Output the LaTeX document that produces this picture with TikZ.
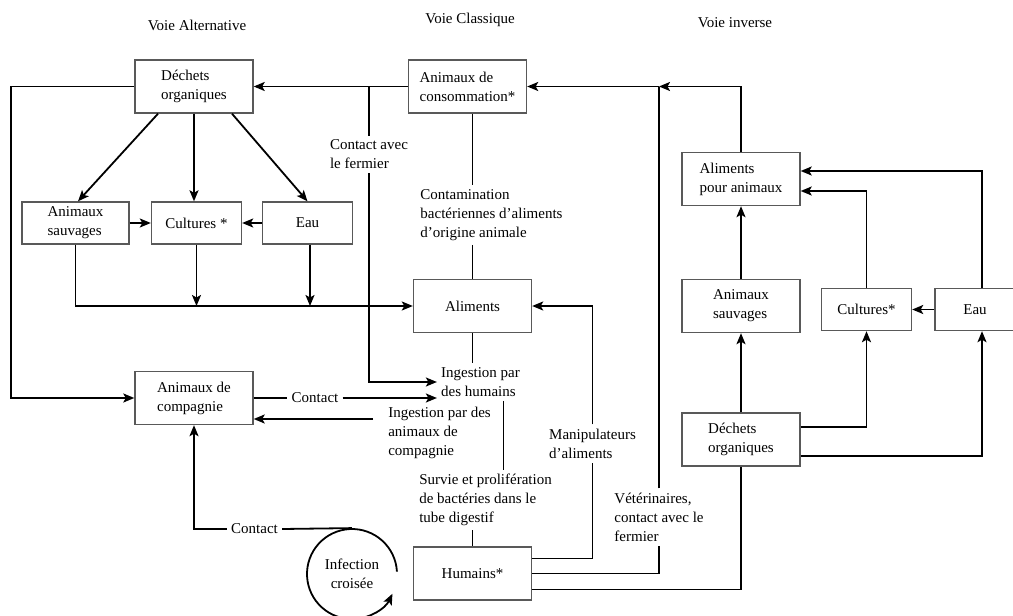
\documentclass[tikz,border=0pt]{standalone}
\usepackage{fontspec}
\setmainfont{Liberation Serif}
\usetikzlibrary{arrows.meta,positioning}

\begin{document}
\begin{tikzpicture}[x=1pt,y=-1pt,>={Stealth[length=11pt,width=9pt,inset=2.5pt]},
line width=1.8pt,font=\fontsize{15}{19}\selectfont]
\tikzstyle{box}=[draw=black!65,line width=1.4pt,align=left,minimum width=118pt,minimum height=53pt]
\tikzstyle{sbox}=[box,minimum width=90pt,minimum height=42pt]
\tikzstyle{lbl}=[align=left]

\useasboundingbox (0,0) rectangle (1013,616);

\node[lbl] (tAlt) at (197,25) {Voie Alternative};
\node[lbl] (tCla) at (470,20) {Voie Classique};
\node[lbl] (tInv) at (735,23) {Voie inverse};

\node[box]  (dechL)  at (194,86.5)   {Déchets\\organiques};
\node[sbox,minimum width=107pt] (sauvL) at (75.5,223) {Animaux\\sauvages};
\node[sbox] (cultL)  at (196.5,223)  {Cultures *};
\node[sbox] (eauL)   at (307.5,223)  {Eau};
\node[box]  (conso)  at (467.5,86.5) {Animaux de\\consommation*};
\node[box]  (alim)   at (472.5,306)  {Aliments};
\node[box]  (alimAn) at (741,179)    {Aliments\\pour animaux};
\node[box]  (sauvR)  at (741,306)    {Animaux\\sauvages};
\node[sbox] (cultR)  at (866.5,309.5) {Cultures*};
\node[sbox,minimum width=80pt] (eauR) at (975,309.5) {Eau};
\node[box]  (dechR)  at (741,439.5)  {Déchets\\organiques};
\node[box]  (comp)   at (194,398)    {Animaux de\\compagnie};
\node[box]  (hum)    at (472.5,573.5) {Humains*};
\node[circle,minimum size=90pt,align=center] (infect) at (352,574) {Infection\\croisée};

\node[lbl] (lFerm)  at (369,154.5) {Contact avec\\le fermier};
\node[lbl] (lCont)  at (491.5,215) {Contamination\\bactériennes d'aliments\\d'origine animale};
\node[lbl] (ingH)   at (480.5,382) {Ingestion par\\des humains};
\node[lbl] (lCtc)   at (315,398)   {Contact};
\node[lbl] (lIngA)  at (439.5,433) {Ingestion par des\\animaux de\\compagnie};
\node[lbl] (lManip) at (592.5,443.5) {Manipulateurs\\d'aliments};
\node[lbl] (lSurv)  at (485.5,500) {Survie et prolifération\\de bactéries dans le\\tube digestif};
\node[lbl] (lVet)   at (659,517)   {Vétérinaires,\\contact avec le\\fermier};
\node[lbl] (lCtc2)  at (254.5,529) {Contact};

\coordinate (jFerm) at (lFerm.north |- conso.west);
\coordinate (jVet) at (lVet.north |- conso.east);

\draw[->] ([xshift=-36pt]dechL.south) -- ([xshift=2.5pt]sauvL.north);
\draw[->] (dechL.south) -- (dechL.south |- cultL.north);
\draw[->] ([xshift=38pt]dechL.south) -- (eauL.north);
\draw[->] (sauvL.east) -- (cultL.west);
\draw[->] (eauL.west) -- (cultL.east);
\draw[->] (cultL.south) -- (cultL.south |- alim.west);
\draw[->] ([xshift=2.5pt]eauL.south) -- ([xshift=2.5pt]eauL.south |- alim.west);
\draw[->] (sauvL.south) |- (alim.west);
\draw[->] (dechL.west) -- ++(-123,0) |- (comp.west);

\draw[->] (conso.west) -- (dechL.east);
\draw (jFerm) -- (lFerm.north);
\draw[->] (lFerm.south) |- (ingH.west);
\draw (alim.north |- conso.south) -- (alim.north |- lCont.north);
\draw (alim.north |- lCont.south) -- (alim.north);
\draw (alim.south) -- (alim.south |- ingH.north);
\draw (comp.east) -- (lCtc.west);
\draw[->] (lCtc.east) -- (lCtc.east -| ingH.west);
\draw[->] ([xshift=-11pt,yshift=14pt]lIngA.west) -- ([yshift=-21pt]comp.east);
\draw ([xshift=23pt]ingH.south) -- ([xshift=23pt]ingH.south |- lSurv.north);
\draw (hum.north |- lSurv.south) -- (hum.north);

\draw ([yshift=15pt]hum.east) -| (lManip.south);
\draw[->] (lManip.north) |- (alim.east);
\draw (hum.east) -| (lVet.south);
\draw (lVet.north) -- (jVet);
\draw[->] (jVet) -- (conso.east);
\draw[->] (alimAn.north) |- (jVet);
\draw ([yshift=-16pt]hum.east) -| (dechR.south);

\draw[->] (dechR.north) -- (sauvR.south);
\draw[->] (sauvR.north) -- (alimAn.south);
\draw[->] ([yshift=12.5pt]dechR.east) -| (cultR.south);
\draw[->] ([yshift=-16.5pt]dechR.east) -| ([xshift=7pt]eauR.south);
\draw[->] (eauR.west) -- (cultR.east);
\draw[->] (cultR.north) |- ([yshift=-12pt]alimAn.east);
\draw[->] ([xshift=7pt]eauR.north) |- ([yshift=8pt]alimAn.east);

\draw (infect.north) -- (lCtc2.east);
\draw[->] (lCtc2.west) -| (comp.south);
\draw[->,x=1pt,y=1pt] ([shift={(3:45pt)}]infect.center) arc (3:334:45);
\end{tikzpicture}
\end{document}
